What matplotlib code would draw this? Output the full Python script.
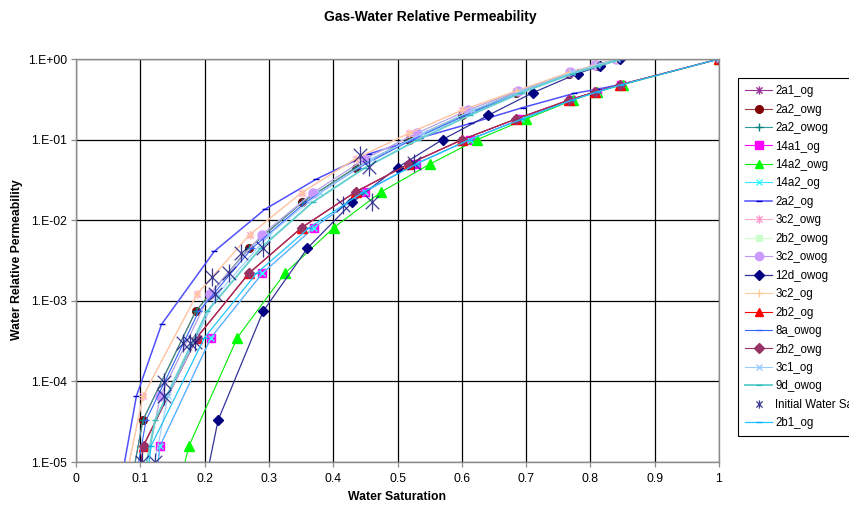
import math
import matplotlib
matplotlib.use("Agg")
import matplotlib.pyplot as plt
from matplotlib.path import Path
from matplotlib.ticker import FixedLocator, FuncFormatter, NullLocator

plt.rcParams['font.family'] = ['Liberation Sans', 'DejaVu Sans']

# ---- relative permeability levels shared by the curve families ----
kr_og = [1e-6, 1.6e-5, 3.5e-4, 2.2e-3, 8.1e-3, 2.25e-2, 5.0e-2, 0.10, 0.18, 0.31, 0.39, 0.48, 1.0]
kr_owg = [1e-6, 3.3e-5, 7.4e-4, 4.5e-3, 1.67e-2, 4.5e-2, 0.10, 0.20, 0.38, 0.66, 0.82, 1.0]
kr_owg_end = [1e-6, 3.3e-5, 7.4e-4, 4.5e-3, 1.67e-2, 4.5e-2, 0.10, 0.20, 0.38, 0.66, 0.82, 1.0, 1.0]
kr_3c2 = [1e-6, 6.5e-5, 1.2e-3, 6.6e-3, 2.2e-2, 5.8e-2, 0.12, 0.233, 0.40, 0.68, 0.84, 1.0]
kr_3c2_end = [1e-6, 6.5e-5, 1.2e-3, 6.6e-3, 2.2e-2, 5.8e-2, 0.12, 0.233, 0.40, 0.68, 0.84, 1.0, 1.0]
kr_2a2_og = [1e-6, 6.6e-5, 5.1e-4, 4.1e-3, 1.37e-2, 3.24e-2, 6.6e-2, 0.105, 0.16, 0.25, 0.375, 0.42, 0.48]

# ---- water saturation of each sample ----
sw_2a1_og = [0.085, 0.105, 0.188, 0.269, 0.351, 0.435, 0.518, 0.601, 0.684, 0.767, 0.807, 0.846, 1.0]
sw_2a2_owg = [0.069, 0.104, 0.186, 0.269, 0.352, 0.435, 0.518, 0.601, 0.684, 0.767, 0.810, 0.845]
sw_2a2_owog = [0.069, 0.104, 0.186, 0.269, 0.352, 0.435, 0.518, 0.601, 0.684, 0.767, 0.810, 0.845]
sw_14a1_og = [0.110, 0.131, 0.210, 0.290, 0.370, 0.449, 0.528, 0.612, 0.692, 0.770, 0.810, 0.848, 1.0]
sw_14a2_owg = [0.137, 0.176, 0.251, 0.325, 0.401, 0.475, 0.551, 0.624, 0.700, 0.773, 0.810, 0.850, 1.0]
sw_14a2_og = [0.110, 0.131, 0.210, 0.290, 0.370, 0.449, 0.528, 0.612, 0.692, 0.770, 0.810, 0.848, 1.0]
sw_2a2_og = [0.053, 0.094, 0.133, 0.215, 0.294, 0.374, 0.455, 0.535, 0.615, 0.695, 0.775, 0.810, 0.845]
sw_3c2_owg = [0.057, 0.104, 0.188, 0.270, 0.351, 0.435, 0.518, 0.601, 0.684, 0.767, 0.807, 0.840]
sw_2b2_owog = [0.085, 0.131, 0.208, 0.289, 0.369, 0.450, 0.530, 0.610, 0.688, 0.768, 0.807, 0.840]
sw_3c2_owog = [0.085, 0.131, 0.208, 0.289, 0.369, 0.450, 0.530, 0.610, 0.688, 0.768, 0.807, 0.840]
sw_12d_owog = [0.182, 0.221, 0.291, 0.360, 0.430, 0.500, 0.570, 0.641, 0.710, 0.780, 0.815, 0.846]
sw_3c2_og = [0.057, 0.104, 0.188, 0.270, 0.351, 0.435, 0.518, 0.601, 0.684, 0.767, 0.807, 0.840, 1.0]
sw_2b2_og = [0.085, 0.105, 0.188, 0.269, 0.351, 0.435, 0.518, 0.601, 0.684, 0.767, 0.807, 0.846, 1.0]
sw_8a_owog = [0.075, 0.109, 0.191, 0.274, 0.357, 0.440, 0.523, 0.606, 0.689, 0.772, 0.812, 0.846]
sw_2b2_owg = [0.085, 0.105, 0.188, 0.269, 0.351, 0.435, 0.518, 0.601, 0.684, 0.767, 0.807, 0.846, 1.0]
sw_3c1_og = [0.097, 0.143, 0.220, 0.300, 0.380, 0.460, 0.540, 0.618, 0.694, 0.772, 0.810, 0.842, 1.0]
sw_9d_owog = [0.085, 0.123, 0.204, 0.287, 0.368, 0.450, 0.532, 0.612, 0.692, 0.772, 0.812, 0.848, 1.0]
sw_2b1_og = [0.097, 0.117, 0.200, 0.281, 0.363, 0.447, 0.530, 0.612, 0.694, 0.772, 0.810, 0.848, 1.0]

# initial water saturation of the plugs and their krw
swi_x = [0.102, 0.123, 0.137, 0.137, 0.167, 0.177, 0.185, 0.211, 0.216, 0.238,
         0.257, 0.291, 0.416, 0.460, 0.442, 0.455, 0.525]
swi_y = [1.0e-5, 1.0e-5, 9.9e-5, 6.5e-5, 3.0e-4, 3.0e-4, 3.1e-4, 2.0e-3, 1.2e-3, 2.2e-3,
         3.9e-3, 4.5e-3, 1.54e-2, 1.7e-2, 6.4e-2, 4.6e-2, 5.08e-2]

x_ticks = [0, 0.1, 0.2, 0.3, 0.4, 0.5, 0.6, 0.7, 0.8, 0.9, 1.0]
y_ticks = [1e-5, 1e-4, 1e-3, 1e-2, 1e-1, 1e0]

# asterisk marker: vertical bar plus a cross
star = Path([(0, -1), (0, 1), (-0.75, -0.75), (0.75, 0.75), (-0.75, 0.75), (0.75, -0.75)],
            [Path.MOVETO, Path.LINETO] * 3)

series = [
    # label, x, y, line colour, marker, marker colour, marker size, line width
    ("2a1_og", sw_2a1_og, kr_og, "#993399", star, "#993399", 6, 0.8),
    ("2a2_owg", sw_2a2_owg, kr_owg, "#a04040", "o", "#800000", 5.5, 0.8),
    ("2a2_owog", sw_2a2_owog, kr_owg, "#339999", "+", "#008080", 6, 0.8),
    ("14a1_og", sw_14a1_og, kr_og, "#ff00ff", "s", "#ff00ff", 5.5, 0.8),
    ("14a2_owg", sw_14a2_owg, kr_og, "#00ee00", "^", "#00ff00", 6.5, 0.8),
    ("14a2_og", sw_14a2_og, kr_og, "#33e5ff", "x", "#33ffff", 5, 0.8),
    ("2a2_og", sw_2a2_og, kr_2a2_og, "#5050ff", "_", "#0000c0", 5, 1.1),
    ("3c2_owg", sw_3c2_owg, kr_3c2, "#ffaacc", star, "#ff99cc", 6, 0.8),
    ("2b2_owog", sw_2b2_owog, kr_3c2, "#ccffcc", "s", "#ccffcc", 4.5, 0.8),
    ("3c2_owog", sw_3c2_owog, kr_3c2, "#bb99ee", "o", "#cc99ff", 6.5, 0.8),
    ("12d_owog", sw_12d_owog, kr_owg, "#333399", "D", "#000080", 5, 0.9),
    ("3c2_og", sw_3c2_og, kr_3c2_end, "#ffcc99", "+", "#ffcc99", 6, 0.8),
    ("2b2_og", sw_2b2_og, kr_og, "#ff0000", "^", "#ff0000", 6.5, 0.8),
    ("8a_owog", sw_8a_owog, kr_owg, "#3366ff", "_", "#3366ff", 5, 0.8),
    ("2b2_owg", sw_2b2_owg, kr_og, "#993366", "D", "#993366", 5, 0.8),
    ("3c1_og", sw_3c1_og, kr_3c2_end, "#99ccff", "x", "#99ccff", 5, 0.8),
    ("9d_owog", sw_9d_owog, kr_owg_end, "#66d0d0", "_", "#33bbbb", 5, 1.4),
]

fig = plt.figure(figsize=(8.49, 5.09), dpi=100)
ax = fig.add_axes([76 / 849, 1 - 462 / 509, 643 / 849, 403 / 509])

handles = []
for label, xs, ys, lc, mk, mc, ms, lw in series:
    h, = ax.plot(xs, ys, color=lc, lw=lw, marker=mk, markersize=ms,
                 markerfacecolor=mc, markeredgecolor=mc, markeredgewidth=1.0,
                 label=label, clip_on=True)
    handles.append(h)

h_swi, = ax.plot(swi_x, swi_y, linestyle="none", marker=star, markersize=13,
                 markerfacecolor="none", markeredgecolor="#1a1a80", markeredgewidth=0.9,
                 label="Initial Water Saturation", alpha=0.85)
handles.append(h_swi)

h_2b1, = ax.plot(sw_2b1_og, kr_og, color="#22c4ff", lw=0.9, marker="_", markersize=5,
                 markeredgecolor="#00b0ff", markeredgewidth=1.0, label="2b1_og")
handles.append(h_2b1)

ax.set_yscale("log")
ax.set_xlim(0, 1)
ax.set_ylim(1e-5, 1)

ax.xaxis.set_major_locator(FixedLocator(x_ticks))
ax.xaxis.set_major_formatter(FuncFormatter(lambda v, p: f"{v:g}"))
ax.yaxis.set_major_locator(FixedLocator(y_ticks))
ax.yaxis.set_minor_locator(NullLocator())
ax.yaxis.set_major_formatter(
    FuncFormatter(lambda v, p: "1.E" + format(int(round(math.log10(v))), "+03d")))

ax.grid(True, which="major", color="black", linewidth=0.9)
ax.set_axisbelow(True)
for s in ax.spines.values():
    s.set_color("#8c8c8c")
    s.set_linewidth(1.0)
ax.tick_params(axis="both", which="major", direction="out", length=3.5, width=0.9,
               color="#8c8c8c", labelsize=8.8, pad=3)
ax.tick_params(axis="x", pad=4.5)

fig.text(0.507, 1 - 17 / 509, "Gas-Water Relative Permeability", ha="center", va="center",
         fontsize=10, fontweight="bold")
fig.text(397.5 / 849, 1 - 497 / 509, "Water Saturation", ha="center", va="center",
         fontsize=8.8, fontweight="bold")
fig.text(17 / 849, 1 - 260 / 509, "Water Relative Permeability", ha="center", va="center",
         rotation=90, fontsize=8.8, fontweight="bold")

leg = fig.legend(handles=handles, loc="upper left", bbox_to_anchor=(738 / 849, 1 - 78 / 509),
                 borderaxespad=0, fontsize=8.3, frameon=True, fancybox=False, shadow=False,
                 edgecolor="black", framealpha=1, numpoints=1, handlelength=2.35,
                 handletextpad=0.25, labelspacing=0.56, borderpad=0.62)
leg.get_frame().set_linewidth(0.8)
for lh in leg.legend_handles:
    lh.set_markersize(min(lh.get_markersize(), 6))

fig.savefig("out.png", dpi=100)
